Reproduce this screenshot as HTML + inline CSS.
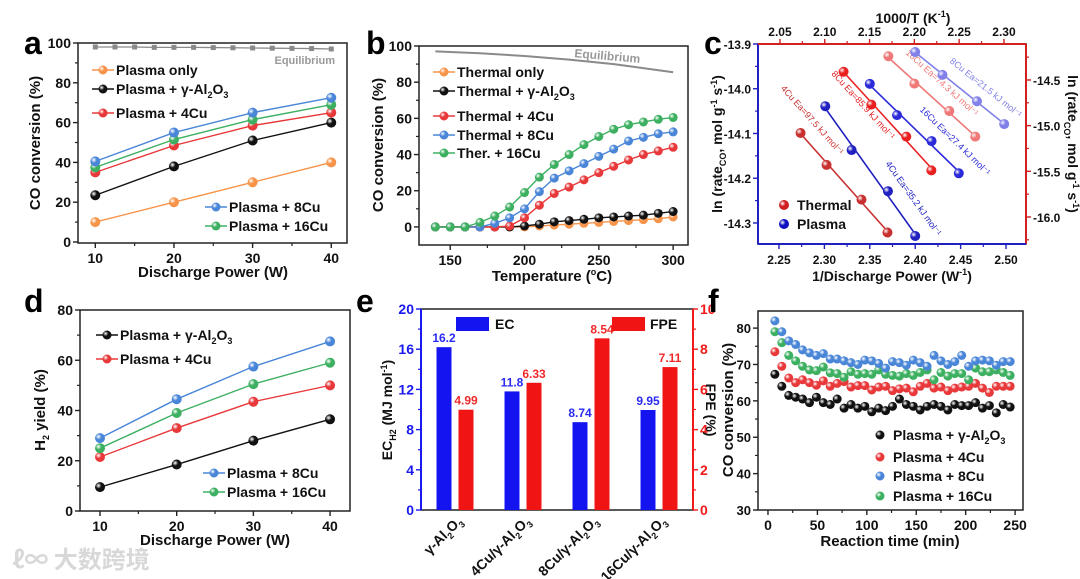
<!DOCTYPE html>
<html><head><meta charset="utf-8">
<style>
html,body{margin:0;padding:0;background:#fff;}
svg{display:block;font-family:"Liberation Sans","Noto Sans CJK SC",sans-serif;font-weight:bold;}
</style></head>
<body>
<svg id="chart" width="1080" height="579" viewBox="0 0 1080 579" xmlns="http://www.w3.org/2000/svg">
<defs id="defs"></defs>
<text x="12" y="568" font-size="24" fill="#d8d8d8" font-family="'Noto Sans CJK SC',sans-serif">ℓ∞ 大数跨境</text>
</svg>
<script>
// ---------- Panel a data ----------
const aPower=[10,20,30,40];
const aPlasmaOnly=[10,20,30,40];
const aAl2O3=[23.5,38,51,60];
const a4Cu=[35,48.5,58.5,65];
const a8Cu=[40.5,55,65,72.5];
const a16Cu=[37.5,51.5,61.5,69];
const aEqX=[10,12.5,15,17.5,20,22.5,25,27.5,30,32.5,35,37.5,40];
const aEqY=[98,98,98,97.8,97.8,97.8,97.7,97.6,97.5,97.4,97.3,97.2,97];
// ---------- Panel b data ----------
const bTemp=[140,150,160,170,180,190,200,210,220,230,240,250,260,270,280,290,300];
const bThermalOnly=[0,0,0,0,0,0,0,0.5,1,1.5,2,2.5,3,3.5,4,4.5,5.5];
const bAl2O3=[0,0,0,0,0,0,0.5,1.5,2.8,3.5,4.2,5,5.5,6,6.5,7.5,8.5];
const b4Cu=[0,0,0,0,0,0.5,5,12,18.5,22,26,30,33.5,37,40,42,44];
const b8Cu=[0,0,0,0,2,5,10,19.5,27,31,35,39,43,47.5,49.5,51.5,52.5];
const b16Cu=[0,0,0,2.5,6,11,19,27.5,34.5,40,45.5,50,54,56.5,58,59.5,60.5];
const bEqT=[140,170,200,230,260,300];
const bEqY=[97,96,94.5,92.5,90,85.5];
// ---------- Panel c data ----------
const cT4x=[2.073,2.102,2.141,2.170], cT4y=[-15.08,-15.43,-15.81,-16.17];
const cT8x=[2.121,2.152,2.191,2.219], cT8y=[-14.41,-14.77,-15.12,-15.49];
const cT16x=[2.171,2.200,2.239,2.268], cT16y=[-14.24,-14.54,-14.84,-15.12];
const cP4x=[2.301,2.330,2.370,2.400], cP4y=[-14.039,-14.137,-14.229,-14.329];
const cP16x=[2.350,2.380,2.418,2.448], cP16y=[-13.989,-14.059,-14.117,-14.189];
const cP8x=[2.400,2.430,2.468,2.498], cP8y=[-13.918,-13.969,-14.028,-14.079];
const cLabels=["4Cu   Ea=97.5 kJ mol⁻¹","8Cu   Ea=85.9 kJ mol⁻¹","16Cu   Ea=74.3 kJ mol⁻¹","4Cu   Ea=35.2 kJ mol⁻¹","16Cu   Ea=27.4 kJ mol⁻¹","8Cu   Ea=21.5 kJ mol⁻¹"];
// ---------- Panel d data ----------
const dPower=[10,20,30,40];
const dAl2O3=[9.5,18.5,28,36.5];
const d4Cu=[21.5,33,43.5,50];
const d8Cu=[29,44.5,57.5,67.5];
const d16Cu=[25,39,50.5,59];
// ---------- Panel e data ----------
const eCats=["γ-Al|2|O|3","4Cu/γ-Al|2|O|3","8Cu/γ-Al|2|O|3","16Cu/γ-Al|2|O|3"];
const eEC=[16.2,11.8,8.74,9.95];
const eFPE=[4.99,6.33,8.54,7.11];
const eECLabels=["16.2","11.8","8.74","9.95"];
const eFPELabels=["4.99","6.33","8.54","7.11"];
// ---------- Panel f data ----------
const fTime=[7,14,21,28,35,42,49,56,63,70,77,84,91,98,105,112,119,126,133,140,147,154,161,168,175,182,189,196,203,210,217,224,231,238,245];
const f8Cu=[82,79,76.5,75.5,74,73.2,72.5,73,71.5,71.5,71,70.5,70,71.2,71,70.3,69,70.8,70.5,69.8,71.2,70.5,69.5,72.5,71,70,70.8,72.5,69.5,71,71.2,71,69.8,70.8,70.8];
const f16Cu=[79,76,72.5,71,69.5,68.5,68.3,69.3,67.7,67.5,66.5,68,67.3,67.5,67.3,68.5,67.3,67,66.8,67.5,67,67.8,68.5,65.8,67.8,66.8,67.5,67.5,65.8,69,68,68,68.5,67.8,67];
const f4Cu=[73.5,69.5,66.3,65,65.8,65,64.3,65.5,64,64.8,65.3,63.8,64.2,64.2,63,63.8,64,62.8,63.3,63.5,62.5,64,64.8,63.5,63.8,62.8,63.5,63.8,64,64.8,63.5,62.3,64,64,64];
const fAl2O3=[67.3,64,61.5,61,60.5,59.5,61,59.5,59,60.5,58,59,58,58.5,57,58,57.3,58.5,60.5,59,58.5,57.5,58.5,59,58.5,57.5,59,58.7,58.7,59.5,58,58.7,56.7,59,58.3];

const NS="http://www.w3.org/2000/svg";
const svg=document.getElementById('chart');
const defs=document.getElementById('defs');
function mk(tag,parent){const e=document.createElementNS(NS,tag);(parent||svg).appendChild(e);return e;}
function at(e,o){for(const k in o)e.setAttribute(k,o[k]);return e;}
function lin(d0,d1,r0,r1){return v=>r0+(v-d0)*(r1-r0)/(d1-d0);}
let gid=0;
function grad(color){
  const id='g'+(gid++);
  const g=mk('radialGradient',defs);at(g,{id:id,cx:'0.35',cy:'0.35',r:'0.65'});
  const s1=mk('stop',g);at(s1,{offset:'0','stop-color':'#ffffff','stop-opacity':'0.85'});
  const s2=mk('stop',g);at(s2,{offset:'0.45','stop-color':color});
  const s3=mk('stop',g);at(s3,{offset:'1','stop-color':color});
  return 'url(#'+id+')';
}
function txt(x,y,s,size,opts){
  const t=mk('text');at(t,{x:x,y:y,'font-size':size,fill:'#111'});
  if(opts)at(t,opts);
  t.innerHTML=s;return t;
}
function sub(s){return '<tspan font-size="9" dy="4">'+s+'</tspan>';}
function up(s){return '<tspan dy="-4">'+s+'</tspan>';}
const al2o3='γ-Al'+sub('2')+up('O')+sub('3');

function axes(name,x0,y0,x1,y1,opt){
  const r=mk('rect');at(r,{x:x0,y:y0,width:x1-x0,height:y1-y0,fill:'none',stroke:opt.frame||'#222','stroke-width':1.5});
  
  
  if(opt.leftColor){const l=mk('line');at(l,{x1:x0,y1:y0,x2:x0,y2:y1,stroke:opt.leftColor,'stroke-width':2});}
  if(opt.rightColor){const l=mk('line');at(l,{x1:x1,y1:y0,x2:x1,y2:y1,stroke:opt.rightColor,'stroke-width':2});}
  if(opt.bottomColor){const l=mk('line');at(l,{x1:x0,y1:y1,x2:x1,y2:y1,stroke:opt.bottomColor,'stroke-width':2});}
  if(opt.topColor){const l=mk('line');at(l,{x1:x0,y1:y0,x2:x1,y2:y0,stroke:opt.topColor,'stroke-width':2});}
}
function yTicks(name,scale,x,vals,minor,side,color,labelColor,fmt,fs){
  const dir=side==='left'?-1:1;
  for(const v of minor){const l=mk('line');at(l,{x1:x,x2:x+dir*3,y1:scale(v),y2:scale(v),stroke:color,'stroke-width':1.2});}
  for(const v of vals){
    const l=mk('line');at(l,{x1:x,x2:x+dir*5,y1:scale(v),y2:scale(v),stroke:color,'stroke-width':1.4});
    const t=txt(x+dir*7,scale(v)+5,fmt?fmt(v):String(v),fs||14,{'text-anchor':side==='left'?'end':'start',fill:labelColor||'#111'});
    
    
  }
}
function xTicks(name,scale,y,vals,minor,side,color,fmt,fs){
  const dir=side==='bottom'?1:-1;
  for(const v of minor){const l=mk('line');at(l,{y1:y,y2:y+dir*3,x1:scale(v),x2:scale(v),stroke:color,'stroke-width':1.2});}
  for(const v of vals){
    const l=mk('line');at(l,{y1:y,y2:y+dir*5,x1:scale(v),x2:scale(v),stroke:color,'stroke-width':1.4});
    const t=txt(scale(v),side==='bottom'?y+20:y-8,fmt?fmt(v):String(v),fs||14,{'text-anchor':'middle'});
    
    
  }
}
function series(name,xs,ys,sx,sy,color,r,noLine){
  if(!noLine){
    const p=mk('polyline');at(p,{points:xs.map((x,i)=>sx(x)+','+sy(ys[i])).join(' '),fill:'none',stroke:color,'stroke-width':1.4});
    
    
  }
  const g=grad(color);
  xs.forEach((x,i)=>{
    const c=mk('circle');at(c,{cx:sx(x),cy:sy(ys[i]),r:r||5,fill:g});
    
    
  });
}
function legendLine(name,x,y,color,label){
  const l=mk('line');at(l,{x1:x,x2:x+22,y1:y,y2:y,stroke:color,'stroke-width':1.4});
  const c=mk('circle');at(c,{cx:x+11,cy:y,r:4.5,fill:grad(color)});
  const t=txt(x+24,y+5,label,14);
  
  
}
function panelLabel(name,x,y,s){const t=txt(x,y,s,32,{fill:'#000'});}
function rotTitle(name,x,y,s,size){const t=txt(x,y,s,size||15,{'text-anchor':'middle',transform:'rotate(-90 '+x+' '+y+')'});return t;}
function title(name,x,y,s,size){const t=txt(x,y,s,size||15,{'text-anchor':'middle'});return t;}

const ORANGE='#f7944a',BLACK='#111',RED='#e8383a',BLUE='#4a86d8',GREEN='#3cb060',GRAY='#8a8a8a';

// ================= Panel a =================
{
  const sx=lin(7.8,42,78,347), sy=lin(0,100,242,43);
  axes('panel-a',78,43,347,243,{});
  yTicks('panel-a-y',sy,78,[0,20,40,60,80,100],[10,30,50,70,90],'left','#222');
  xTicks('panel-a-x',sx,243,[10,20,30,40],[15,25,35],'bottom','#222');
  const p=mk('polyline');at(p,{points:aEqX.map((x,i)=>sx(x)+','+sy(aEqY[i])).join(' '),fill:'none',stroke:GRAY,'stroke-width':1.3});
  aEqX.forEach((x,i)=>{const r=mk('rect');at(r,{x:sx(x)-2.5,y:sy(aEqY[i])-2.5,width:5,height:5,fill:GRAY});});
  const eq=txt(335,64,'Equilibrium',11,{'text-anchor':'end',fill:'#999'});
  series('a-plasma-only',aPower,aPlasmaOnly,sx,sy,ORANGE);
  series('a-al2o3',aPower,aAl2O3,sx,sy,BLACK);
  series('a-4cu',aPower,a4Cu,sx,sy,RED);
  series('a-16cu',aPower,a16Cu,sx,sy,GREEN);
  series('a-8cu',aPower,a8Cu,sx,sy,BLUE);
  legendLine('legend-a-plasma-only',92,70,ORANGE,'Plasma only');
  legendLine('legend-a-al2o3',92,89,BLACK,'Plasma + '+al2o3);
  legendLine('legend-a-4cu',92,113,RED,'Plasma + 4Cu');
  legendLine('legend-a-8cu',205,207,BLUE,'Plasma + 8Cu');
  legendLine('legend-a-16cu',205,226,GREEN,'Plasma + 16Cu');
  rotTitle('panel-a-y-title',40,143,'CO conversion (%)');
  title('panel-a-x-title',213,277,'Discharge Power (W)');
  panelLabel('panel-a-label',24,54,'a');
}
// ================= Panel b =================
{
  const sx=lin(129,310,419,688), sy=lin(-10,100,245,46);
  axes('panel-b',419,46,688,245,{});
  yTicks('panel-b-y',sy,419,[0,20,40,60,80,100],[10,30,50,70,90],'left','#222');
  xTicks('panel-b-x',sx,245,[150,200,250,300],[175,225,275],'bottom','#222');
  const p=mk('polyline');at(p,{points:bEqT.map((x,i)=>sx(x)+','+sy(bEqY[i])).join(' '),fill:'none',stroke:GRAY,'stroke-width':2});
  
  
  const eq=txt(607,60,'Equilibrium',12,{'text-anchor':'middle',fill:'#999',transform:'rotate(5 607 60)'});
  series('b-thermal-only',bTemp,bThermalOnly,sx,sy,ORANGE,4.5);
  series('b-al2o3',bTemp,bAl2O3,sx,sy,BLACK,4.5);
  series('b-4cu',bTemp,b4Cu,sx,sy,RED,4.5);
  series('b-8cu',bTemp,b8Cu,sx,sy,BLUE,4.5);
  series('b-16cu',bTemp,b16Cu,sx,sy,GREEN,4.5);
  legendLine('legend-b-thermal-only',433,72,ORANGE,'Thermal only');
  legendLine('legend-b-al2o3',433,91,BLACK,'Thermal + '+al2o3);
  legendLine('legend-b-4cu',433,116,RED,'Thermal + 4Cu');
  legendLine('legend-b-8cu',433,135,BLUE,'Thermal + 8Cu');
  legendLine('legend-b-16cu',433,153,GREEN,'Ther. + 16Cu');
  rotTitle('panel-b-y-title',383,145,'CO conversion (%)');
  title('panel-b-x-title',552,281,'Temperature ('+'<tspan font-size="9" dy="-6">o</tspan><tspan dy="6">C)</tspan>');
  panelLabel('panel-b-label',366,54,'b');
}
// ================= Panel c =================
{
  const x0=758,x1=1026,y0=44,y1=244;
  const sxB=lin(2.2269,2.522,x0,x1), sxT=lin(2.0255,2.3246,x0,x1);
  const syL=lin(-14.347,-13.9,y1,y0), syR=lin(-16.296,-14.106,y1,y0);
  axes('panel-c',x0,y0,x1,y1,{frame:'#222',leftColor:'#2020c0',bottomColor:'#2020c0',rightColor:'#d02020',topColor:'#d02020'});
  yTicks('panel-c-left',syL,x0,[-14.3,-14.2,-14.1,-14.0,-13.9],[-14.25,-14.15,-14.05,-13.95],'left','#2020c0','#111',v=>v.toFixed(1),12);
  yTicks('panel-c-right',syR,x1,[-16.0,-15.5,-15.0,-14.5],[-16.25,-15.75,-15.25,-14.75,-14.25],'right','#d02020','#111',v=>v.toFixed(1),12);
  xTicks('panel-c-bottom',sxB,y1,[2.25,2.30,2.35,2.40,2.45,2.50],[2.275,2.325,2.375,2.425,2.475],'bottom','#2020c0',v=>v.toFixed(2),12);
  xTicks('panel-c-top',sxT,y0,[2.05,2.10,2.15,2.20,2.25,2.30],[2.075,2.125,2.175,2.225,2.275],'top','#d02020',v=>v.toFixed(2),12);
  const sets=[[cT4x,cT4y,sxT,syR,'#c83030','c-thermal-4cu'],[cT8x,cT8y,sxT,syR,'#e82020','c-thermal-8cu'],[cT16x,cT16y,sxT,syR,'#f07878','c-thermal-16cu'],
              [cP4x,cP4y,sxB,syL,'#2020c0','c-plasma-4cu'],[cP16x,cP16y,sxB,syL,'#2a2ad8','c-plasma-16cu'],[cP8x,cP8y,sxB,syL,'#8080e8','c-plasma-8cu']];
  const annoCenter=[[810,122],[861,107],[940,85],[911,200],[953,143],[984,90]];
  sets.forEach((s,k)=>{
    const [xs,ys,sx,sy,col,name]=s;
    const n=xs.length;let mx=0,my=0;xs.forEach((v,i)=>{mx+=v;my+=ys[i];});mx/=n;my/=n;
    let num=0,den=0;xs.forEach((v,i)=>{num+=(v-mx)*(ys[i]-my);den+=(v-mx)*(v-mx);});
    const b=num/den,a=my-b*mx;
    const xa=xs[0]-0.002,xb=xs[n-1]+0.002;
    const l=mk('line');at(l,{x1:sx(xa),y1:sy(a+b*xa),x2:sx(xb),y2:sy(a+b*xb),stroke:col,'stroke-width':1.6});
    
    
    series(name,xs,ys,sx,sy,col,5,true);
    const ang=Math.atan2(sy(a+b*xb)-sy(a+b*xa),sx(xb)-sx(xa))*180/Math.PI;
    const [cx,cy]=annoCenter[k];
    const t=txt(cx,cy,cLabels[k],9,{'text-anchor':'middle',fill:col,'font-weight':'normal',transform:'rotate('+ang.toFixed(1)+' '+cx+' '+cy+')'});
    
    
  });
  const c1=mk('circle');at(c1,{cx:784,cy:205,r:5,fill:grad('#d02020')});
  const lt=txt(797,210,'Thermal',14);
  const c2=mk('circle');at(c2,{cx:784,cy:224,r:5,fill:grad('#1010c0')});
  const lp=txt(797,229,'Plasma',14);
  rotTitle('panel-c-left-title',722,144,'ln (rate'+sub('CO')+up(', mol g')+'<tspan font-size="9" dy="-5">-1</tspan><tspan dy="5"> s</tspan><tspan font-size="9" dy="-5">-1</tspan><tspan dy="5">)</tspan>',14);
  const rt=txt(1068,144,'ln (rate'+sub('CO')+up(', mol g')+'<tspan font-size="9" dy="-5">-1</tspan><tspan dy="5"> s</tspan><tspan font-size="9" dy="-5">-1</tspan><tspan dy="5">)</tspan>',14,{'text-anchor':'middle',transform:'rotate(90 1068 144)'});
  
  title('panel-c-bottom-title',892,281,'1/Discharge Power (W'+'<tspan font-size="9" dy="-6">-1</tspan><tspan dy="6">)</tspan>',14);
  title('panel-c-top-title',913,23,'1000/T (K'+'<tspan font-size="9" dy="-6">-1</tspan><tspan dy="6">)</tspan>',14);
  panelLabel('panel-c-label',704,54,'c');
}
// ================= Panel d =================
{
  const sx=lin(7.39,42.6,80,350), sy=lin(0,80,511,310);
  axes('panel-d',80,310,350,511,{});
  yTicks('panel-d-y',sy,80,[0,20,40,60,80],[10,30,50,70],'left','#222');
  xTicks('panel-d-x',sx,511,[10,20,30,40],[15,25,35],'bottom','#222');
  series('d-al2o3',dPower,dAl2O3,sx,sy,BLACK);
  series('d-4cu',dPower,d4Cu,sx,sy,RED);
  series('d-16cu',dPower,d16Cu,sx,sy,GREEN);
  series('d-8cu',dPower,d8Cu,sx,sy,BLUE);
  legendLine('legend-d-al2o3',96,335,BLACK,'Plasma + '+al2o3);
  legendLine('legend-d-4cu',96,359,RED,'Plasma + 4Cu');
  legendLine('legend-d-8cu',203,473,BLUE,'Plasma + 8Cu');
  legendLine('legend-d-16cu',203,492,GREEN,'Plasma + 16Cu');
  rotTitle('panel-d-y-title',45,410,'H'+sub('2')+up(' yield (%)'));
  title('panel-d-x-title',215,545,'Discharge Power (W)');
  panelLabel('panel-d-label',24,312,'d');
}
// ================= Panel e =================
{
  const x0=421,x1=693,y0=309,y1=510;
  const syL=lin(0,20,y1,y0), syR=lin(0,10,y1,y0);
  const band=(x1-x0)/eCats.length;
  const cx=i=>x0+band*(i+0.5);
  axes('panel-e',x0,y0,x1,y1,{leftColor:'#1a1af0',rightColor:'#f01a1a'});
  yTicks('panel-e-left',syL,x0,[0,4,8,12,16,20],[2,6,10,14,18],'left','#1a1af0','#1a1af0');
  yTicks('panel-e-right',syR,x1,[0,2,4,6,8,10],[1,3,5,7,9],'right','#f01a1a','#f01a1a');
  eEC.forEach((v,i)=>{
    const r=mk('rect');at(r,{x:cx(i)-11-7.5,y:syL(v),width:15,height:y1-syL(v),fill:'#1414f0'});
    
    
    const t=txt(cx(i)-11,syL(v)-5,eECLabels[i],12,{'text-anchor':'middle',fill:'#2a2af0'});
    
    
  });
  eFPE.forEach((v,i)=>{
    const r=mk('rect');at(r,{x:cx(i)+11-7.5,y:syR(v),width:15,height:y1-syR(v),fill:'#f01414'});
    
    
    const t=txt(cx(i)+11,syR(v)-5,eFPELabels[i],12,{'text-anchor':'middle',fill:'#f02a2a'});
    
    
  });
  eCats.forEach((c,i)=>{
    const p=c.split('|');
    const x=cx(i)+8,y=522;
    const t=txt(x,y,p[0]+sub(p[1])+up(p[2])+sub(p[3]),14,{'text-anchor':'end',transform:'rotate(-45 '+x+' '+y+')'});
    
    
  });
  const lb=mk('rect');at(lb,{x:456,y:317,width:33,height:14,fill:'#1414f0'});
  
  const lbt=txt(495,329,'EC',14);
  const lr=mk('rect');at(lr,{x:612,y:317,width:33,height:14,fill:'#f01414'});
  
  const lrt=txt(650,329,'FPE',14);
  rotTitle('panel-e-left-title',392,410,'EC'+sub('H2')+up(' (MJ mol')+'<tspan font-size="9" dy="-5">-1</tspan><tspan dy="5">)</tspan>',14);
  const rt=txt(706,410,'FPE (%)',14,{'text-anchor':'middle',transform:'rotate(90 706 410)'});
  
  panelLabel('panel-e-label',356,312,'e');
}
// ================= Panel f =================
{
  const sx=lin(-10.1,258,758,1023), sy=lin(30,84.7,510,311);
  axes('panel-f',758,311,1023,510,{});
  yTicks('panel-f-y',sy,758,[30,40,50,60,70,80],[35,45,55,65,75],'left','#222','#111',null,13);
  xTicks('panel-f-x',sx,510,[0,50,100,150,200,250],[25,75,125,175,225],'bottom','#222');
  series('f-al2o3',fTime,fAl2O3,sx,sy,BLACK,4.5,true);
  series('f-4cu',fTime,f4Cu,sx,sy,RED,4.5,true);
  series('f-16cu',fTime,f16Cu,sx,sy,GREEN,4.5,true);
  series('f-8cu',fTime,f8Cu,sx,sy,BLUE,4.5,true);
  const lg=[[BLACK,'Plasma + '+al2o3,435,'legend-f-al2o3'],[RED,'Plasma + 4Cu',457,'legend-f-4cu'],[BLUE,'Plasma + 8Cu',476,'legend-f-8cu'],[GREEN,'Plasma + 16Cu',496,'legend-f-16cu']];
  lg.forEach(l=>{
    const c=mk('circle');at(c,{cx:880,cy:l[2],r:4.5,fill:grad(l[0])});
    const t=txt(893,l[2]+5,l[1],14);
    
    
  });
  rotTitle('panel-f-y-title',733,410,'CO conversion (%)');
  title('panel-f-x-title',890,546,'Reaction time (min)');
  panelLabel('panel-f-label',708,312,'f');
}
</script>
</body></html>
